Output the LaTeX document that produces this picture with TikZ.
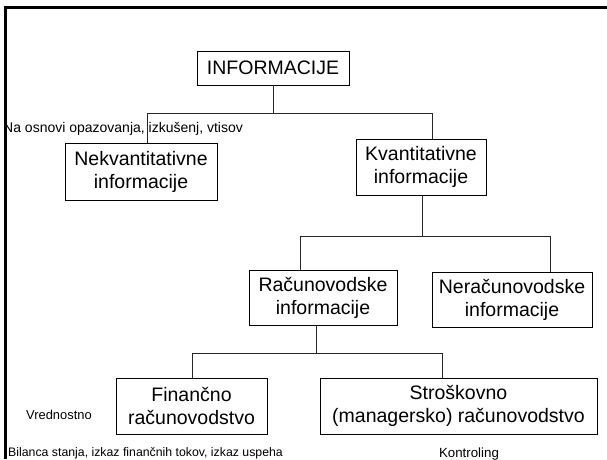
\documentclass[tikz,border=0pt]{standalone}
\usepackage{fontspec}
\setmainfont{Liberation Sans}
\begin{document}
\begin{tikzpicture}[x=1pt,y=-1pt,
  box/.style={draw=black,line width=0.9pt,inner sep=0pt,align=center,
    font=\fontsize{19.5}{23}\selectfont},
  note/.style={inner sep=0pt,font=\fontsize{13.3}{15}\selectfont},
  link/.style={draw=black!85,line width=0.9pt},
  frame/.style={line width=3pt,draw=black}]
\useasboundingbox (0,0) rectangle (607,459);
% frame
\draw[frame] (5.5,459) -- (5.5,7.5) -- (607,7.5);
% boxes
\node[box,minimum width=152,minimum height=34] (info) at (273,68) {INFORMACIJE};
\node[box,minimum width=152,minimum height=57] (nekv) at (141,171.5) {Nekvantitativne\\informacije};
\node[box,minimum width=130,minimum height=56] (kvant) at (421,167) {Kvantitativne\\informacije};
\node[box,minimum width=148,minimum height=55] (racun) at (323,298) {Računovodske\\informacije};
\node[box,minimum width=160,minimum height=55] (nerac) at (512,299.5) {Neračunovodske\\informacije};
\node[box,minimum width=151,minimum height=56] (fin) at (191.5,406) {Finančno\\računovodstvo};
\node[box,minimum width=277,minimum height=56] (strosk) at (458.5,406) {Stroškovno\\(managersko) računovodstvo};
% notes
\node[note,anchor=west,font=\fontsize{14}{16}\selectfont] (n1) at (3,129) {Na osnovi opazovanja, izkušenj, vtisov};
\node[note,anchor=west,font=\fontsize{12.9}{15}\selectfont] (n2) at (26,415) {Vrednostno};
\node[note,anchor=west,font=\fontsize{12.3}{15}\selectfont] (n3) at (8,453) {Bilanca stanja, izkaz finančnih tokov, izkaz uspeha};
\node[note] (n4) at (469,454) {Kontroling};
% connectors
\coordinate (a1) at (147,113);
\coordinate (a2) at (432,113);
\draw[link] (info.south) -- (info.south |- a1);
\draw[link] (nekv.north -| a1) |- (a2) -- (kvant.north -| a2);
\coordinate (b0) at (422,236);
\coordinate (b1) at (300,236);
\coordinate (b2) at (550,236);
\draw[link] (kvant.south -| b0) -- (b0);
\draw[link] (racun.north -| b1) |- (b2) -- (nerac.north -| b2);
\coordinate (c0) at (316,353);
\coordinate (c1) at (192,353);
\coordinate (c2) at (442,353);
\draw[link] (racun.south -| c0) -- (c0);
\draw[link] (fin.north -| c1) |- (c2) -- (strosk.north -| c2);
\end{tikzpicture}
\end{document}
